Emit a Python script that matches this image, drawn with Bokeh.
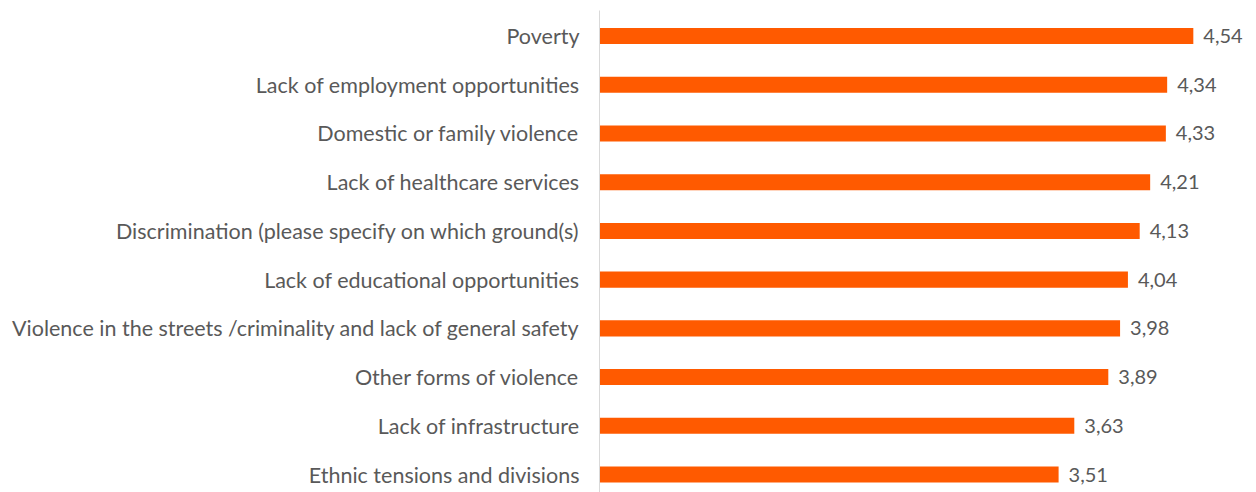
from bokeh.plotting import figure
from bokeh.models import ColumnDataSource, Range1d, FixedTicker
from bokeh.core.properties import value
from bokeh.embed import file_html
from bokeh.resources import INLINE

categories = [
    "Poverty",
    "Lack of employment opportunities",
    "Domestic or family violence",
    "Lack of healthcare services",
    "Discrimination (please specify on which ground(s)",
    "Lack of educational opportunities",
    "Violence in the streets /criminality and lack of general safety",
    "Other forms of violence",
    "Lack of infrastructure",
    "Ethnic tensions and divisions",
]
scores = [4.54, 4.34, 4.33, 4.21, 4.13, 4.04, 3.98, 3.89, 3.63, 3.51]

n = len(categories)
ypos = [n - i for i in range(n)]
labels = [f"{v:.2f}".replace(".", ",") for v in scores]

src = ColumnDataSource(dict(y=ypos, v=scores, lab=labels))

FONT = "Lato"
TXT = "#595959"

p = figure(width=1256, height=492, output_backend="svg", toolbar_location=None,
           x_range=Range1d(0, 5.023), y_range=Range1d(0.631, 10.524),
           min_border_left=599, min_border_right=0, min_border_top=10, min_border_bottom=0)
p.hbar(y="y", right="v", left=0, height=0.33, source=src, color="#FF5A00", line_color=None)
p.text(x="v", y="y", text="lab", source=src, x_offset=10, text_align="left",
       text_baseline="middle", text_font=value(FONT), text_font_size="20px", text_color=TXT)

p.xaxis.visible = False
p.grid.visible = False
p.outline_line_color = None
ax = p.yaxis[0]
ax.ticker = FixedTicker(ticks=ypos)
ax.major_label_overrides = {y: c for y, c in zip(ypos, categories)}
ax.major_tick_line_color = None
ax.minor_tick_line_color = None
ax.axis_line_color = "#d9d9d9"
ax.major_label_standoff = 14
ax.major_label_text_font = FONT
ax.major_label_text_font_size = "21.5px"
ax.major_label_text_color = TXT

open("out.html", "w").write(file_html(p, INLINE))
